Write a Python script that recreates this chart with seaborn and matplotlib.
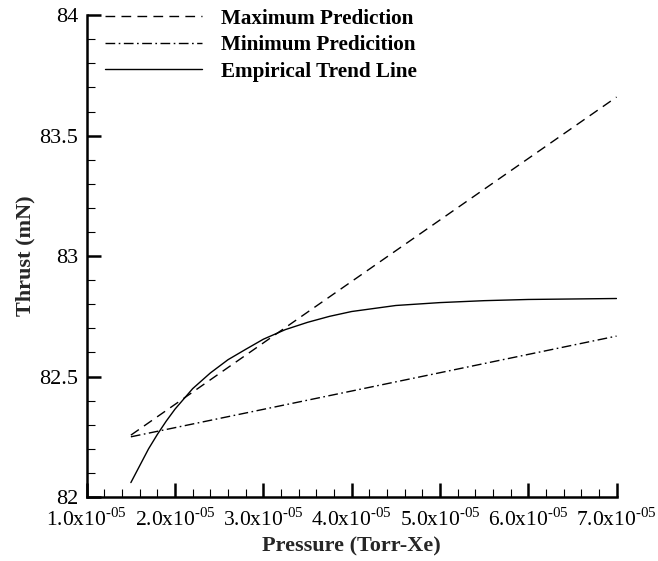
import numpy as np
import pandas as pd
import seaborn as sns
import matplotlib.pyplot as plt
from matplotlib.ticker import MultipleLocator, FuncFormatter

max_p = [1.5e-05, 7.0e-05]
max_t = [82.257, 83.66]

min_p = [1.5e-05, 7.0e-05]
min_t = [82.25, 82.668]

emp_p = [1.5e-05, 1.6e-05, 1.7e-05, 1.8e-05, 1.9e-05, 2.0e-05, 2.2e-05, 2.4e-05,
         2.6e-05, 2.8e-05, 3.0e-05, 3.25e-05, 3.5e-05, 3.75e-05, 4.0e-05, 4.5e-05,
         5.0e-05, 5.5e-05, 6.0e-05, 6.5e-05, 7.0e-05]
emp_t = [82.06, 82.13, 82.2, 82.26, 82.315, 82.365, 82.45, 82.515,
         82.57, 82.613, 82.655, 82.695, 82.725, 82.75, 82.77, 82.795,
         82.807, 82.815, 82.82, 82.822, 82.824]

x_ticks = [1.0e-05, 2.0e-05, 3.0e-05, 4.0e-05, 5.0e-05, 6.0e-05, 7.0e-05]
y_ticks = [82, 82.5, 83, 83.5, 84]

sns.set_style("ticks")
plt.rcParams['font.family'] = ['Liberation Serif', 'DejaVu Serif']
plt.rcParams['mathtext.fontset'] = 'custom'
plt.rcParams['mathtext.rm'] = 'Liberation Serif'

df_max = pd.DataFrame({"p": max_p, "t": max_t})
df_min = pd.DataFrame({"p": min_p, "t": min_t})
df_emp = pd.DataFrame({"p": emp_p, "t": emp_t})

fig = plt.figure(figsize=(6.58, 5.61), dpi=100)
ax = fig.add_axes([0.1318, 0.114, 0.937 - 0.1318, 0.973 - 0.114])

sns.lineplot(data=df_max, x="p", y="t", ax=ax, color="black", lw=1.0,
             label="Maximum Prediction")
ax.lines[-1].set_dashes([7, 4.5])
sns.lineplot(data=df_min, x="p", y="t", ax=ax, color="black", lw=1.0,
             label="Minimum Predicition")
ax.lines[-1].set_dashes([7, 2.5, 1.2, 2.5])
sns.lineplot(data=df_emp, x="p", y="t", ax=ax, color="black", lw=1.0,
             label="Empirical Trend Line")

ax.set_xlim(1.0e-05, 7.0e-05)
ax.set_ylim(82, 84)
ax.set_xticks(x_ticks)
ax.set_yticks(y_ticks)
ax.xaxis.set_minor_locator(MultipleLocator(0.2e-05))
ax.yaxis.set_minor_locator(MultipleLocator(0.1))


def fmt_x(v, pos):
    return "%.1fx10$^{\\text{-05}}$" % (v * 1e5)


def fmt_y(v, pos):
    return "%g" % v


ax.xaxis.set_major_formatter(FuncFormatter(fmt_x))
ax.yaxis.set_major_formatter(FuncFormatter(fmt_y))

sns.despine(ax=ax)
for s in ["left", "bottom"]:
    ax.spines[s].set_linewidth(1.8)
    ax.spines[s].set_color("black")
ax.tick_params(which="major", direction="in", length=10, width=1.8, colors="black")
ax.tick_params(which="minor", direction="in", length=6, width=0.8, colors="black")
ax.tick_params(axis="x", which="major", labelsize=15.5, pad=8)
ax.tick_params(axis="y", which="major", labelsize=16, pad=6)

ax.set_xlabel("Pressure (Torr-Xe)", fontsize=16, fontweight="bold", labelpad=4)
ax.set_ylabel("Thrust (mN)", fontsize=16, fontweight="bold", labelpad=3)

leg = ax.legend(loc="upper left", frameon=False, handlelength=4.6, handletextpad=0.9,
                prop={"weight": "bold", "size": 15.2}, borderaxespad=0.1,
                labelspacing=0.3, bbox_to_anchor=(0.015, 1.035))
for t in leg.get_texts():
    t.set_color("black")

fig.savefig("out.png", dpi=100)
